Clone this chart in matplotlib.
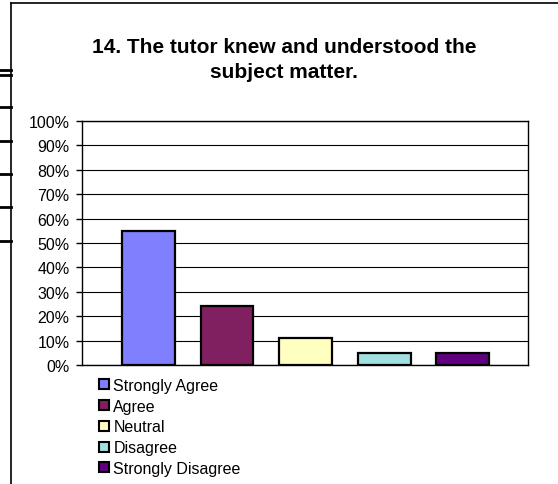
import matplotlib
matplotlib.use('Agg')
import matplotlib.pyplot as plt
from matplotlib.patches import Patch
from matplotlib.lines import Line2D

title = '14. The tutor knew and understood the\nsubject matter.'
categories = ['Strongly Agree', 'Agree', 'Neutral', 'Disagree', 'Strongly Disagree']
values = [55, 24, 11, 5, 5]
colors = ['#8080FF', '#802060', '#FFFFC0', '#A0E0E0', '#600080']
yticks = [0, 10, 20, 30, 40, 50, 60, 70, 80, 90, 100]


def main():
    plt.rcParams['font.family'] = ['Liberation Sans', 'DejaVu Sans']
    fig = plt.figure(figsize=(5.58, 4.85), dpi=100)
    ax = fig.add_axes([82/558, 1-366/485, (528-82)/558, (366-122)/485])

    xs = list(range(len(values)))
    ax.set_axisbelow(True)
    ax.bar(xs, values, width=0.675, color=colors, edgecolor='black', linewidth=1.6, zorder=3)

    ax.set_ylim(0, 100)
    ax.set_xlim(-0.847, 4.834)
    ax.set_yticks(yticks)
    ax.set_yticklabels(['%d%%' % v for v in yticks], fontsize=11.5)
    ax.set_xticks([])
    ax.tick_params(axis='y', length=4, width=1, pad=5, direction='out')
    ax.grid(axis='y', color='black', linewidth=0.8)
    for s in ax.spines.values():
        s.set_linewidth(1)
        s.set_color('black')

    fig.text(284/558, 1-60/485, title, ha='center', va='center', fontsize=15,
             fontweight='bold', linespacing=1.45)

    handles = [Patch(facecolor=c, edgecolor='black', linewidth=1.5) for c in colors]
    fig.legend(handles, categories, loc='upper left', bbox_to_anchor=(99/558, 1-379/485),
               frameon=False, fontsize=11.5, handlelength=0.6, handleheight=0.6,
               handletextpad=0.3, labelspacing=0.36, borderpad=0, borderaxespad=0)

    # outer frame and left stubs
    lx = 10.5/558
    fig.add_artist(Line2D([lx, lx], [0, 1-4/485], color='black', linewidth=1.2))
    fig.add_artist(Line2D([lx, 1], [1-4/485, 1-4/485], color='black', linewidth=1.2))
    for y in [71, 76, 108, 142, 175, 208, 242]:
        fig.add_artist(Line2D([0, lx], [1-y/485, 1-y/485], color='black', linewidth=2))

    fig.savefig('out.png', dpi=100)


if __name__ == '__main__':
    main()
